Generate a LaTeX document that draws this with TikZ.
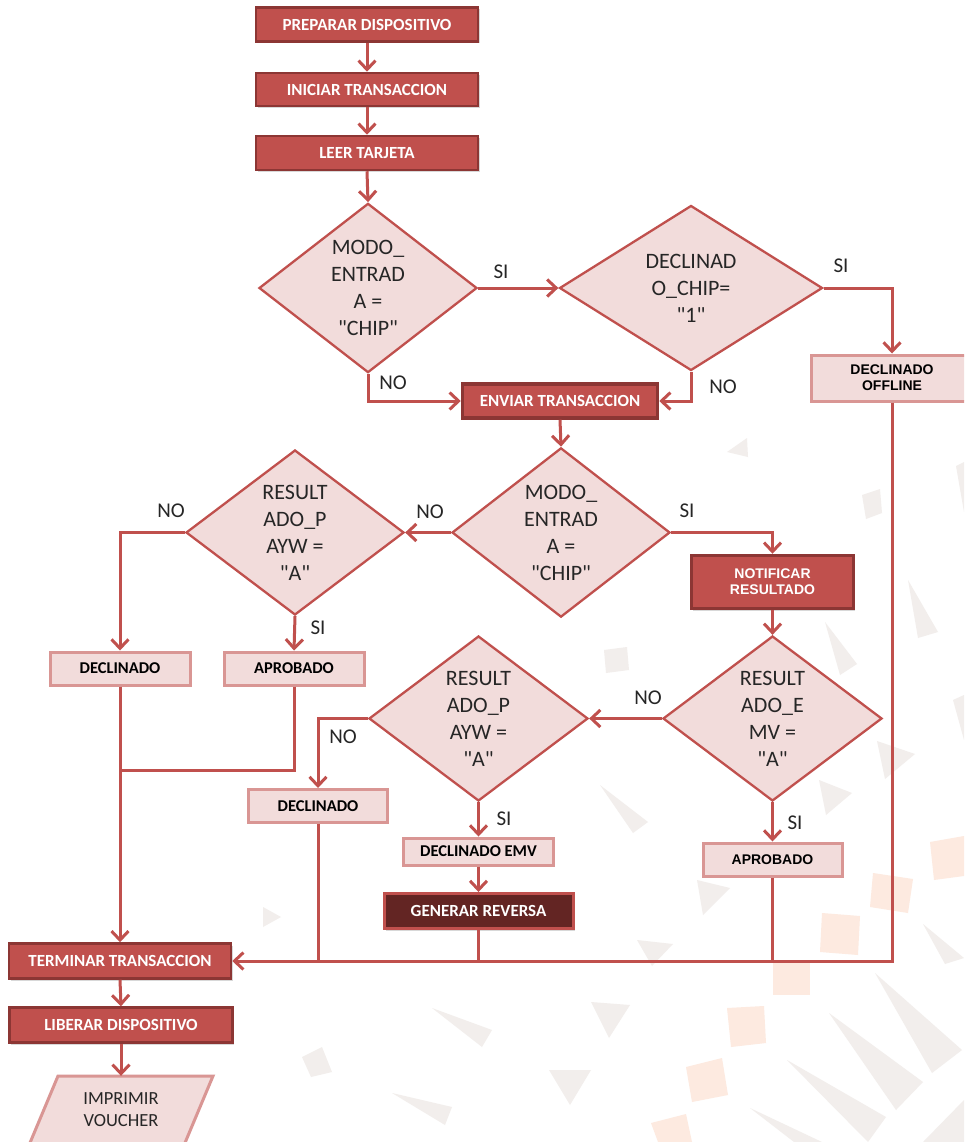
\documentclass[tikz,border=0pt]{standalone}
\usepackage{fontspec}
\setmainfont{Carlito}[Ligatures=TeXOff]
\newfontfamily\arialfont{Liberation Sans}[Ligatures=TeXOff]
\usetikzlibrary{arrows.meta,shapes.geometric,shadows}
\definecolor{accent}{RGB}{192,80,77}
\definecolor{dkborder}{RGB}{140,54,52}
\definecolor{lightfill}{RGB}{242,220,219}
\definecolor{lightborder}{RGB}{217,150,148}
\definecolor{revfill}{RGB}{99,37,35}
\definecolor{txtdark}{RGB}{38,38,38}
\definecolor{bggray}{RGB}{242,238,236}
\definecolor{bgpeach}{RGB}{253,234,224}
\tikzset{
  darkbox/.style={rectangle, draw=dkborder, fill=accent, line width=2.5pt, text=white,
    font=\fontsize{17}{19}\selectfont\bfseries, inner sep=0pt, align=center,
    drop shadow={shadow xshift=1.5pt, shadow yshift=-2pt, opacity=0.3}},
  lightbox/.style={rectangle, draw=lightborder, fill=lightfill, line width=3pt, text=black,
    font=\fontsize{16.5}{18}\selectfont\bfseries, inner sep=0pt, align=center},
  arialbox/.style={font=\arialfont\fontsize{14}{16}\selectfont\bfseries},
  decision/.style={diamond, draw=accent, fill=lightfill, line width=2.3pt, text=txtdark,
    font=\fontsize{22}{27}\selectfont, align=center, inner sep=0pt},
  conn/.style={draw=accent, line width=3pt},
  arr/.style={conn, -{Straight Barb[length=9pt,width=17pt]}},
  lbl/.style={text=txtdark, font=\fontsize{21}{23}\selectfont, inner sep=0pt},
  bgtri/.style={fill=bggray},
  bgsq/.style={fill=bgpeach},
}
\begin{document}
\begin{tikzpicture}[x=1pt,y=-1pt]
\useasboundingbox (0,0) rectangle (964,1142);
\clip (0,0) rectangle (964,1142);
\fill[white] (0,0) rectangle (964,1142);

% background decoration
\fill[bgtri] (727,452)--(747,438)--(748,457)--cycle;
\fill[bgtri] (862,495)--(880,489)--(882,513)--(866,519)--cycle;
\fill[bgtri] (604,650)--(627,647)--(629,670)--(606,673)--cycle;
\fill[bgtri] (908,580)--(938,632)--(918,638)--cycle;
\fill[bgtri] (825,622)--(857,664)--(840,675)--cycle;
\fill[bgtri] (956,466)--(964,462)--(964,512)--cycle;
\fill[bgtri] (953,700)--(964,695)--(964,740)--cycle;
\fill[bgtri] (877,741)--(915,754)--(885,779)--cycle;
\fill[bgtri] (819,780)--(852,793)--(826,815)--cycle;
\fill[bgtri] (600,785)--(648,822)--(633,833)--cycle;
\fill[bgtri] (697,880)--(730,888)--(703,915)--cycle;
\fill[bgtri] (263,907)--(281,917)--(263,927)--cycle;
\fill[bgtri] (637,940)--(673,944)--(652,966)--cycle;
\fill[bgtri] (923,924)--(964,958)--(945,964)--cycle;
\fill[bgtri] (302,1057)--(322,1047)--(332,1072)--(311,1077)--cycle;
\fill[bgtri] (432,1008)--(492,1030)--(482,1047)--cycle;
\fill[bgtri] (591,1002)--(630,1005)--(609,1038)--cycle;
\fill[bgtri] (549,1070)--(591,1070)--(570,1105)--cycle;
\fill[bgtri] (392,1093)--(452,1107)--(445,1125)--cycle;
\fill[bgtri] (829,1013)--(923,1082)--(896,1110)--cycle;
\fill[bgtri] (875,973)--(962,1050)--(932,1073)--cycle;
\fill[bgtri] (787,1060)--(886,1117)--(868,1142)--cycle;
\fill[bgtri] (750,1108)--(822,1142)--(794,1142)--cycle;
\fill[bgtri] (964,1100)--(964,1142)--(923,1142)--cycle;
\fill[bgsq] (930,842)--(964,836)--(964,876)--(934,880)--cycle;
\fill[bgsq] (873,873)--(913,879)--(908,913)--(870,907)--cycle;
\fill[bgsq] (822,913)--(860,916)--(858,955)--(820,952)--cycle;
\fill[bgsq] (773,963)--(810,963)--(810,995)--(773,995)--cycle;
\fill[bgsq] (727,1008)--(764,1006)--(766,1043)--(731,1047)--cycle;
\fill[bgsq] (686,1067)--(722,1058)--(728,1095)--(692,1102)--cycle;
\fill[bgsq] (651,1123)--(686,1114)--(692,1142)--(658,1142)--cycle;

% nodes
\node[darkbox, minimum width=222pt, minimum height=34pt] (prep) at (367,24.5) {PREPARAR DISPOSITIVO};
\node[darkbox, minimum width=222pt, minimum height=33pt] (ini) at (367,89.5) {INICIAR TRANSACCION};
\node[darkbox, minimum width=222pt, minimum height=34pt] (leer) at (367,153) {LEER TARJETA};
\node[decision, minimum width=218pt, minimum height=165pt] (d1) at (368,288) {MODO\_\\ENTRAD\\A =\\"CHIP"};
\node[decision, minimum width=263pt, minimum height=165pt] (d2) at (691,288) {DECLINAD\\O\_CHIP=\\"1"};
\node[lightbox, arialbox, minimum width=162pt, minimum height=46pt] (offline) at (892,378) {DECLINADO\\OFFLINE};
\node[darkbox, line width=3.5pt, minimum width=195pt, minimum height=34pt] (envia) at (560,401) {ENVIAR TRANSACCION};
\node[decision, minimum width=218pt, minimum height=165pt] (d3) at (561,532.5) {MODO\_\\ENTRAD\\A =\\"CHIP"};
\node[decision, minimum width=218pt, minimum height=165pt] (d4) at (295,532.5) {RESULT\\ADO\_P\\AYW =\\"A"};
\node[darkbox, arialbox, line width=3.5pt, minimum width=162pt, minimum height=53pt] (notif) at (772.5,582) {NOTIFICAR\\RESULTADO};
\node[lightbox, minimum width=140pt, minimum height=33pt] (decl1) at (120,668.5) {DECLINADO};
\node[lightbox, minimum width=140pt, minimum height=33pt] (apro1) at (294,668.5) {APROBADO};
\node[decision, minimum width=219pt, minimum height=165pt] (d5) at (772.5,718.5) {RESULT\\ADO\_E\\MV =\\"A"};
\node[decision, minimum width=219pt, minimum height=165pt] (d6) at (478.5,718.5) {RESULT\\ADO\_P\\AYW =\\"A"};
\node[lightbox, minimum width=139pt, minimum height=33pt] (decl2) at (318,806) {DECLINADO};
\node[lightbox, minimum width=150pt, minimum height=27pt] (declemv) at (478.5,851.5) {DECLINADO EMV};
\node[darkbox, draw=accent, fill=revfill, line width=3pt, minimum width=189pt, minimum height=35pt] (genrev) at (478.5,911) {GENERAR REVERSA};
\node[lightbox, arialbox, minimum width=139pt, minimum height=33pt] (apro2) at (772.5,859.5) {APROBADO};
\node[darkbox, minimum width=222pt, minimum height=35pt] (term) at (120,961) {TERMINAR TRANSACCION};
\node[darkbox, minimum width=223pt, minimum height=35pt] (lib) at (121,1025) {LIBERAR DISPOSITIVO};
\fill[lightfill] (58,1076)--(213,1076)--(182,1150)--(27,1150)--cycle;
\draw[lightborder, line width=3pt] (27,1150)--(58,1076)--(213,1076)--(182,1150);
\node[text=txtdark, font=\fontsize{18.5}{22}\selectfont, align=center, inner sep=0pt,
  minimum width=150pt, minimum height=68pt] (imp) at (121,1110) {IMPRIMIR\\VOUCHER};

% connectors
\draw[arr] (prep.south) -- (ini.north);
\draw[arr] (ini.south) -- (leer.north);
\draw[arr] (leer.south) -- (d1.north);
\draw[arr] (d1.east) -- (d2.west);
\draw[arr] (d2.east) -| (offline.north);
\draw[arr] (d1.south) |- (envia.west);
\draw[arr] (d2.south) |- (envia.east);
\draw[arr] (envia.south) -- (d3.north);
\draw[arr] (d3.west) -- (d4.east);
\draw[arr] (d3.east) -| (notif.north);
\draw[arr] (d4.west) -| (decl1.north);
\draw[arr] (d4.south) -- (apro1.north);
\coordinate (j1) at (decl1.south |- 0,770);
\draw[conn] (apro1.south) |- (j1);
\draw[arr] (decl1.south) -- (term.north);
\draw[arr] (notif.south) -- (d5.north);
\draw[arr] (d5.west) -- (d6.east);
\draw[arr] (d6.west) -| (decl2.north);
\draw[arr] (d6.south) -- (declemv.north);
\draw[arr] (declemv.south) -- (genrev.north);
\draw[arr] (d5.south) -- (apro2.north);
\draw[arr] (offline.south) |- (term.east);
\draw[conn] (decl2.south) -- (decl2.south |- term.east);
\draw[conn] (genrev.south) -- (genrev.south |- term.east);
\draw[conn] (apro2.south) -- (apro2.south |- term.east);
\draw[arr] (term.south) -- (lib.north);
\draw[arr] (lib.south) -- (imp.north);

% labels
\node[lbl] (l1) at (501,272) {SI};
\node[lbl] (l2) at (841,266) {SI};
\node[lbl] (l3) at (393,383) {NO};
\node[lbl] (l4) at (723,387) {NO};
\node[lbl] (l5) at (430,512) {NO};
\node[lbl] (l6) at (687,511) {SI};
\node[lbl] (l7) at (171,511) {NO};
\node[lbl] (l8) at (318,628) {SI};
\node[lbl] (l9) at (648,698) {NO};
\node[lbl] (l10) at (343,737) {NO};
\node[lbl] (l11) at (504,819) {SI};
\node[lbl] (l12) at (795,823) {SI};
\end{tikzpicture}
\end{document}
